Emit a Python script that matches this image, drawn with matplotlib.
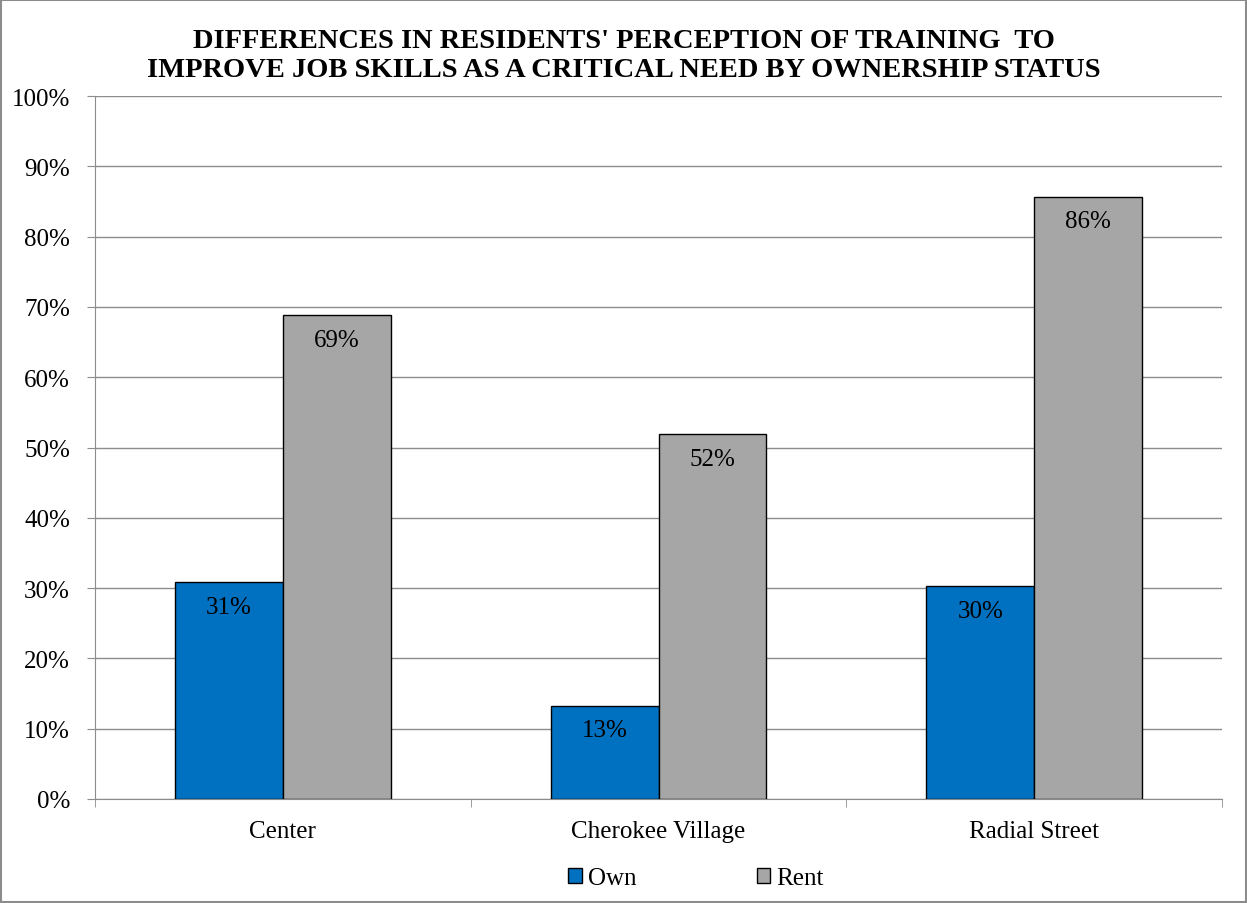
import matplotlib.pyplot as plt
import numpy as np
from matplotlib.patches import Rectangle

# Data
CATEGORIES = ["Center", "Cherokee Village", "Radial Street"]
OWN = [31, 13, 30]
RENT = [69, 52, 86]
OWN_ACTUAL = [30.9, 13.3, 30.3]
RENT_ACTUAL = [68.9, 51.9, 85.7]

plt.rcParams['font.family'] = ['Liberation Serif', 'DejaVu Serif']
FS = 18

fig = plt.figure(figsize=(12.47, 9.04), dpi=100)
ax = fig.add_axes([95 / 1247, 1 - 800 / 904, 1127 / 1247, 703 / 904])

x = np.arange(len(CATEGORIES))
w = 108 / 376
b_own = ax.bar(x - w / 2, OWN_ACTUAL, w, color="#0070C0", edgecolor="black", linewidth=1, label="Own", zorder=3)
b_rent = ax.bar(x + w / 2, RENT_ACTUAL, w, color="#A6A6A6", edgecolor="black", linewidth=1, label="Rent", zorder=3)

for bars, vals in ((b_own, OWN), (b_rent, RENT)):
    for r, v in zip(bars, vals):
        ax.annotate(f"{v}%", (r.get_x() + r.get_width() / 2, r.get_height()),
                    xytext=(0, -10), textcoords="offset points",
                    ha="center", va="top", fontsize=FS, zorder=4)

ax.set_xlim(-0.5, 2.5)
ax.set_ylim(0, 100)
ax.set_yticks(range(0, 101, 10))
ax.set_yticklabels([f"{t}%" for t in range(0, 101, 10)], fontsize=FS)
ax.yaxis.grid(True, color="#8C8C8C", linewidth=1)
ax.set_axisbelow(True)

ax.set_xticks(x)
ax.set_xticklabels(CATEGORIES, fontsize=FS)
ax.tick_params(axis="x", length=0, pad=15)
ax.set_xticks([-0.5, 0.5, 1.5, 2.5], minor=True)
ax.tick_params(axis="x", which="minor", length=6, color="#8C8C8C")
ax.tick_params(axis="y", length=6, color="#8C8C8C", pad=12)

for s in ("top", "right"):
    ax.spines[s].set_visible(False)
for s in ("left", "bottom"):
    ax.spines[s].set_color("#8C8C8C")

fig.text(0.5, 1 - 56 / 904,
         "DIFFERENCES IN RESIDENTS' PERCEPTION OF TRAINING  TO\nIMPROVE JOB SKILLS AS A CRITICAL NEED BY OWNERSHIP STATUS",
         ha="center", va="center", fontsize=20.5, fontweight="bold", linespacing=1.22)

leg = fig.legend(handles=[b_own, b_rent], loc="center", bbox_to_anchor=(696 / 1247, 1 - 879 / 904),
                 ncol=2, frameon=False, fontsize=FS, handlelength=0.55, handleheight=0.55,
                 handletextpad=0.25, columnspacing=4.8)

fig.patches.append(Rectangle((0.001, 0.001), 0.998, 0.998, transform=fig.transFigure,
                             fill=False, edgecolor="#8C8C8C", linewidth=1.5))

fig.savefig("out.png", dpi=100)
